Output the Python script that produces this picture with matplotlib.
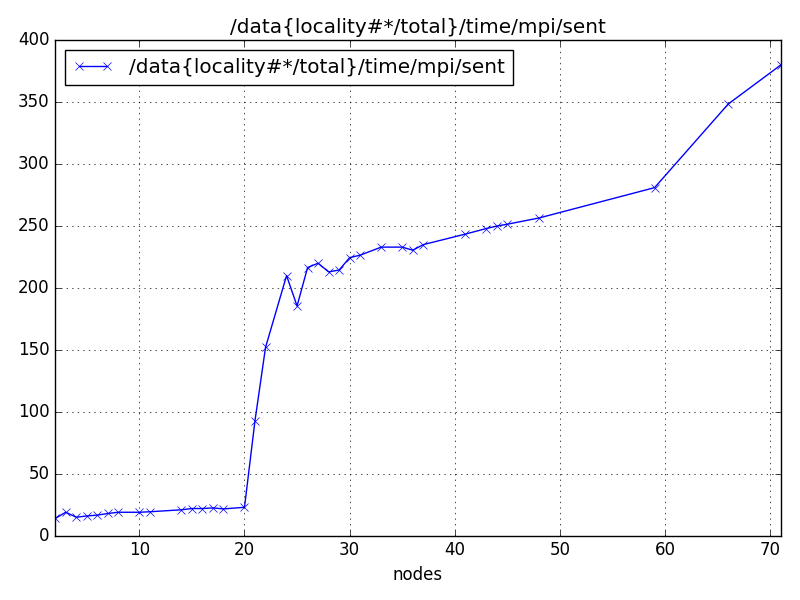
import matplotlib
matplotlib.use('Agg')
import matplotlib.pyplot as plt

plt.style.use('classic')

# Data
nodes = [2, 3, 4, 5, 6, 7, 8, 10, 11, 14, 15, 16, 17, 18, 20,
         21, 22, 24, 25, 26, 27, 28, 29, 30, 31, 33, 35, 36, 37,
         41, 43, 44, 45, 48, 59, 66, 71]
sent = [14, 19, 15, 16, 16.7, 18, 19, 19, 19.4, 21, 22, 22, 22.5, 21.7, 23,
        93, 152, 210, 185.5, 216.5, 220, 213, 214.5, 224.5, 226.5, 233, 233, 230.5, 235,
        243.5, 248, 250, 251.5, 256.5, 281, 348.5, 380]
label = '/data{locality#*/total}/time/mpi/sent'

fig, ax = plt.subplots(figsize=(8, 6), dpi=100)
ax.plot(nodes, sent, color='b', marker='x', label=label)
ax.set_xlim(2, 71)
ax.set_ylim(0, 400)
ax.set_title(label)
ax.set_xlabel('nodes')
ax.grid(True)
ax.legend(loc='upper left')
fig.subplots_adjust(left=0.069, right=0.976, top=0.933, bottom=0.107)
fig.savefig('out.png', dpi=100)
